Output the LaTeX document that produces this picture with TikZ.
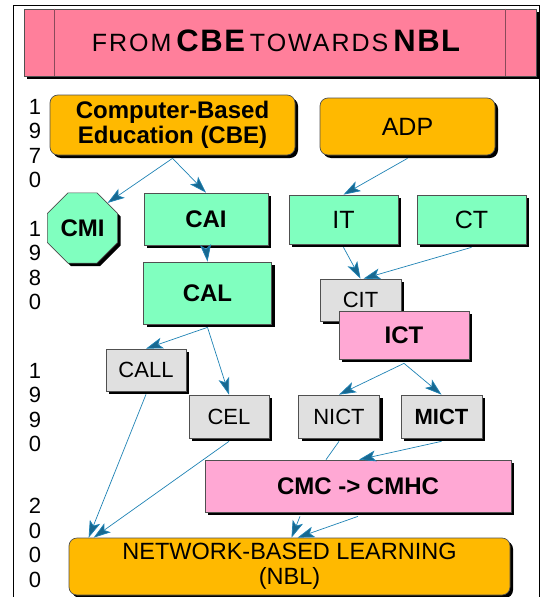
\documentclass[tikz,border=0pt]{standalone}
\usepackage{fontspec}
\setmainfont{Liberation Sans}
\newfontfamily\titlefont[LetterSpace=8]{Liberation Sans}
\newfontfamily\titlebold[LetterSpace=5]{Liberation Sans}
\usepackage{tikz}
\usetikzlibrary{arrows.meta,shadows,shapes.geometric}

\definecolor{bannerpink}{HTML}{FF7F9B}
\definecolor{bannerline}{HTML}{8A4A5A}
\definecolor{cbeorange}{HTML}{FFB900}
\definecolor{mintgreen}{HTML}{80FFBF}
\definecolor{boxgray}{HTML}{E0E0E0}
\definecolor{lightpink}{HTML}{FFA8D4}
\definecolor{flowblue}{HTML}{1E82B4}
\definecolor{edgegray}{HTML}{505050}

\tikzset{
    box/.style={draw=edgegray, line width=0.7pt, inner sep=0pt, align=center,
        font=\fontsize{24}{25}\selectfont,
        drop shadow={shadow xshift=3pt, shadow yshift=-3pt, fill=black, opacity=1}},
    orangebox/.style={box, fill=cbeorange, rounded corners=8pt},
    greenbox/.style={box, fill=mintgreen},
    graybox/.style={box, fill=boxgray, font=\fontsize{22}{24}\selectfont},
    pinkbox/.style={box, fill=lightpink},
    flow/.style={draw=flowblue, line width=0.7pt,
        -{Stealth[length=17pt, width=11pt, inset=4pt, fill=flowblue!80!black]}},
    yearlabel/.style={align=center, inner sep=0pt, anchor=north,
        font=\fontsize{22}{24.5}\selectfont}
}

\begin{document}
\begin{tikzpicture}[x=1pt, y=-1pt]
        \useasboundingbox (0,0) rectangle (541,597);
        \draw[line width=1pt] (13,597) -- (13,5) -- (539,5) -- (539,597);

        % banner
        \node[box, fill=bannerpink, minimum width=512pt, minimum height=67pt] (banner) at (280,42.5) {};
        \draw[bannerline, line width=1pt] ([xshift=31pt]banner.north west) -- ([xshift=31pt]banner.south west);
        \draw[bannerline, line width=1pt] ([xshift=-31pt]banner.north east) -- ([xshift=-31pt]banner.south east);
        \node[inner sep=0pt, anchor=base] (title) at (276,51)
            {\titlefont\fontsize{25}{25}\selectfont FROM\hspace{5pt}{\titlebold\fontsize{31}{31}\selectfont\bfseries CBE}\hspace{5pt}TOWARDS\hspace{5pt}{\titlebold\fontsize{31}{31}\selectfont\bfseries NBL}};

        % years
        \node[yearlabel] (y1970) at (35,99) {1\\9\\7\\0};
        \node[yearlabel] (y1980) at (35,221) {1\\9\\8\\0};
        \node[yearlabel] (y1990) at (35,363) {1\\9\\9\\0};
        \node[yearlabel] (y2000) at (35,498) {2\\0\\0\\0};

        % boxes
        \node[orangebox, minimum width=245pt, minimum height=60pt, font=\fontsize{24}{25}\selectfont\bfseries] (cbe) at (172.5,125) {Computer-Based\\Education (CBE)};
        \node[orangebox, minimum width=175pt, minimum height=57pt, font=\fontsize{25}{26}\selectfont] (adp) at (407.5,126.5) {ADP};
        \node[greenbox, regular polygon, regular polygon sides=8, minimum size=76pt, font=\fontsize{24}{25}\selectfont\bfseries] (cmi) at (82.5,228) {CMI};
        \node[greenbox, minimum width=124pt, minimum height=52pt, font=\fontsize{24}{25}\selectfont\bfseries] (cai) at (206,219) {CAI};
        \node[greenbox, minimum width=109pt, minimum height=49pt, font=\fontsize{25}{26}\selectfont] (it) at (343.5,219.5) {IT};
        \node[greenbox, minimum width=109pt, minimum height=49pt, font=\fontsize{25}{26}\selectfont] (ct) at (471.5,219.5) {CT};
        \node[greenbox, minimum width=128pt, minimum height=62pt, font=\fontsize{24}{25}\selectfont\bfseries] (cal) at (207.5,293) {CAL};
        \node[graybox, minimum width=81pt, minimum height=42pt] (cit) at (360.5,300) {CIT};
        \node[pinkbox, minimum width=130pt, minimum height=48pt, font=\fontsize{24}{25}\selectfont\bfseries] (ict) at (404,335) {ICT};
        \node[graybox, minimum width=80pt, minimum height=42pt] (call) at (146,370) {CALL};
        \node[graybox, minimum width=80pt, minimum height=43pt] (cel) at (229,416.5) {CEL};
        \node[graybox, minimum width=81pt, minimum height=43pt] (nict) at (339,416.5) {NICT};
        \node[graybox, minimum width=81pt, minimum height=43pt, font=\fontsize{22}{24}\selectfont\bfseries] (mict) at (441.5,416.5) {MICT};
        \node[pinkbox, minimum width=306pt, minimum height=52pt, font=\fontsize{24}{25}\selectfont\bfseries] (cmhc) at (358,486) {CMC -> CMHC};
        \node[orangebox, minimum width=441pt, minimum height=57pt, font=\fontsize{23.5}{25}\selectfont] (nbl) at (289.5,566.5) {NETWORK-BASED LEARNING\\(NBL)};

        % connectors
        \draw[flow] ([yshift=-3pt]cbe.south) -- (cmi.north east);
        \draw[flow] ([yshift=-3pt]cbe.south) -- (cai.north);
        \draw[flow] ([yshift=-3pt]adp.south) -- (it.north);
        \draw[flow] ([yshift=-3pt]cai.south) -- (cal.north);
        \draw[flow] ([yshift=-3pt]it.south) -- (cit.north);
        \draw[flow] ([yshift=-3pt]ct.south) -- ([xshift=3pt]cit.north);
        \draw[flow] ([yshift=-3pt]cal.south) -- (call.north);
        \draw[flow] ([yshift=-3pt]cal.south) -- (cel.north);
        \draw[flow] ([yshift=-4pt]ict.south) -- (nict.north);
        \draw[flow] ([yshift=-4pt]ict.south) -- (mict.north);
        \draw[flow] ([yshift=-3pt]call.south) -- ([xshift=20pt]nbl.north west);
        \draw[flow] ([yshift=-3pt]cel.south) -- ([xshift=25pt]nbl.north west);
        \draw[draw=flowblue, line width=0.7pt] ([yshift=-3pt]nict.south) -- ([xshift=-32pt]cmhc.north);
        \draw[flow] ([yshift=-3pt]mict.south) -- ([xshift=1pt]cmhc.north);
        \draw[flow] ([xshift=-58pt, yshift=-4pt]cmhc.south) -- ([xshift=2pt]nbl.north);
        \draw[flow] ([yshift=-4pt]cmhc.south) -- ([xshift=8pt]nbl.north);
    \end{tikzpicture}
\end{document}
